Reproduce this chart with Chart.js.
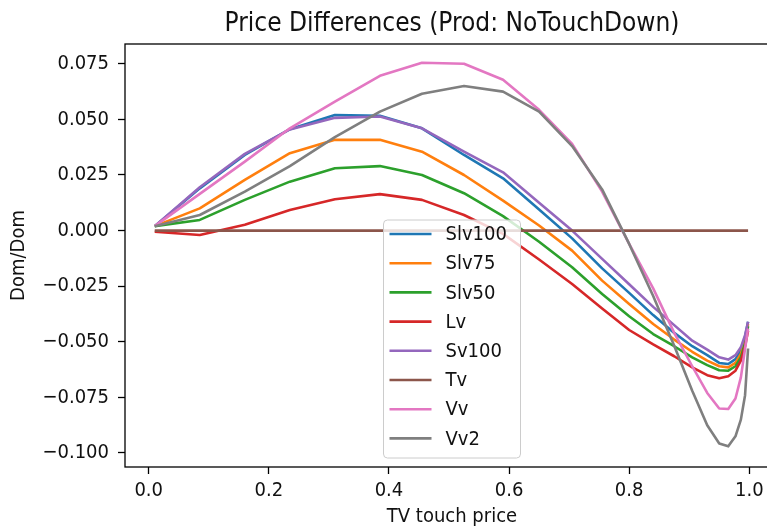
<!DOCTYPE html>
<html><head><meta charset="utf-8">
<script src="https://cdn.jsdelivr.net/npm/chart.js@4/dist/chart.umd.min.js"></script>
<style>
html,body{margin:0;padding:0;overflow:hidden;background:#fff;width:767px;height:529px}
#wrap{position:relative;width:779px;height:529px}
</style></head><body>
<div id="wrap"><canvas id="c"></canvas></div>
<script>
// ---- data ----
const xValues = [0.01, 0.085, 0.16, 0.235, 0.31, 0.385, 0.455, 0.525, 0.59, 0.65, 0.705, 0.755, 0.80, 0.84, 0.875, 0.905, 0.93, 0.95, 0.965, 0.977, 0.986, 0.993, 0.998];
const seriesNames = ['Slv100', 'Slv75', 'Slv50', 'Lv', 'Sv100', 'Tv', 'Vv', 'Vv2'];
const slv100 = [0.002, 0.019, 0.034, 0.0456, 0.052, 0.0516, 0.046, 0.034, 0.0235, 0.0095, -0.0035, -0.017, -0.028, -0.038, -0.046, -0.052, -0.056, -0.0595, -0.060, -0.0578, -0.054, -0.048, -0.041];
const slv75 = [0.002, 0.010, 0.0228, 0.0348, 0.0408, 0.0408, 0.0355, 0.025, 0.0135, 0.0023, -0.009, -0.0225, -0.033, -0.042, -0.049, -0.0545, -0.0585, -0.061, -0.0615, -0.0595, -0.0555, -0.049, -0.042];
const slv50 = [0.002, 0.0048, 0.0138, 0.022, 0.028, 0.029, 0.025, 0.0168, 0.0065, -0.005, -0.0165, -0.0285, -0.0385, -0.0465, -0.052, -0.057, -0.0605, -0.0628, -0.063, -0.061, -0.057, -0.0505, -0.043];
const lv = [-0.0005, -0.002, 0.0026, 0.0093, 0.0141, 0.0164, 0.0138, 0.007, -0.0015, -0.013, -0.024, -0.035, -0.0447, -0.0512, -0.0565, -0.0615, -0.065, -0.0664, -0.0655, -0.063, -0.0585, -0.052, -0.045];
const sv100 = [0.002, 0.0195, 0.0345, 0.0455, 0.0507, 0.0513, 0.046, 0.0355, 0.0262, 0.0125, 0.000, -0.0127, -0.0241, -0.0343, -0.0425, -0.0495, -0.0535, -0.057, -0.058, -0.056, -0.0525, -0.047, -0.041];
const tv = [0, 0, 0, 0, 0, 0, 0, 0, 0, 0, 0, 0, 0, 0, 0, 0, 0, 0, 0, 0, 0, 0, 0];
const vv = [0.002, 0.0165, 0.031, 0.046, 0.058, 0.0696, 0.0755, 0.075, 0.0678, 0.0543, 0.039, 0.0175, -0.006, -0.026, -0.046, -0.061, -0.073, -0.080, -0.0802, -0.0755, -0.066, -0.053, -0.044];
const vv2 = [0.002, 0.007, 0.0175, 0.029, 0.042, 0.0535, 0.0615, 0.065, 0.0625, 0.0535, 0.038, 0.0185, -0.006, -0.0294, -0.0518, -0.072, -0.0875, -0.0957, -0.097, -0.0925, -0.085, -0.074, -0.053];
const seriesValues = [slv100, slv75, slv50, lv, sv100, tv, vv, vv2];
const seriesColors = ['#1f77b4', '#ff7f0e', '#2ca02c', '#d62728', '#9467bd', '#8c564b', '#e377c2', '#7f7f7f'];
const xTicks = [0, 0.2, 0.4, 0.6, 0.8, 1.0];
const xTickLabels = ['0.0', '0.2', '0.4', '0.6', '0.8', '1.0'];
const yTicks = [-0.1, -0.075, -0.05, -0.025, 0, 0.025, 0.05, 0.075];
const yTickLabels = ['\u22120.100', '\u22120.075', '\u22120.050', '\u22120.025', '0.000', '0.025', '0.050', '0.075'];
const titleText = 'Price Differences (Prod: NoTouchDown)';
const xLabel = 'TV touch price';
const yLabel = 'Dom/Dom';

const FONT = "'DejaVu Sans Condensed', 'DejaVu Sans', sans-serif";
const TXT = '#111';

const datasets = seriesNames.map((name, i) => ({
  label: name,
  data: xValues.map((x, k) => ({x: x, y: seriesValues[i][k]})),
  borderColor: seriesColors[i],
  backgroundColor: seriesColors[i],
  borderWidth: 2.6,
  pointRadius: 0,
  tension: 0,
  fill: false,
  borderJoinStyle: 'round',
  order: seriesNames.length - 1 - i
}));

const framePlugin = {
  id: 'frame',
  afterDatasetsDraw(chart) {
    const a = chart.chartArea, ctx = chart.ctx;
    ctx.save();
    ctx.strokeStyle = '#000';
    ctx.lineWidth = 1.3;
    ctx.strokeRect(a.left, a.top, a.right - a.left, a.bottom - a.top);
    ctx.restore();
  }
};

const legendPlugin = {
  id: 'boxLegend',
  afterDatasetsDraw(chart) {
    const a = chart.chartArea, ctx = chart.ctx;
    const w = 137, h = 238, r = 4;
    const x0 = (a.left + a.right) / 2 - w / 2;
    const y0 = a.bottom - 9 - h;
    ctx.save();
    ctx.beginPath();
    ctx.moveTo(x0 + r, y0);
    ctx.lineTo(x0 + w - r, y0); ctx.arcTo(x0 + w, y0, x0 + w, y0 + r, r);
    ctx.lineTo(x0 + w, y0 + h - r); ctx.arcTo(x0 + w, y0 + h, x0 + w - r, y0 + h, r);
    ctx.lineTo(x0 + r, y0 + h); ctx.arcTo(x0, y0 + h, x0, y0 + h - r, r);
    ctx.lineTo(x0, y0 + r); ctx.arcTo(x0, y0, x0 + r, y0, r);
    ctx.closePath();
    ctx.fillStyle = 'rgba(255,255,255,0.8)';
    ctx.fill();
    ctx.strokeStyle = '#cccccc';
    ctx.lineWidth = 1;
    ctx.stroke();
    ctx.font = '20px ' + FONT;
    ctx.textBaseline = 'middle';
    ctx.textAlign = 'left';
    chart.data.datasets.forEach((ds, i) => {
      const y = y0 + 14 + i * 29.2;
      ctx.beginPath();
      ctx.moveTo(x0 + 6, y);
      ctx.lineTo(x0 + 48, y);
      ctx.strokeStyle = ds.borderColor;
      ctx.lineWidth = 2.6;
      ctx.stroke();
      ctx.fillStyle = TXT;
      ctx.fillText(ds.label, x0 + 62, y + 1);
    });
    ctx.restore();
  }
};

new Chart(document.getElementById('c'), {
  type: 'line',
  data: { datasets: datasets },
  options: {
    responsive: true,
    maintainAspectRatio: false,
    animation: false,
    layout: { padding: 0 },
    plugins: {
      legend: { display: false },
      tooltip: { enabled: false },
      title: {
        display: true, text: titleText, fullSize: false, color: TXT,
        font: { family: FONT, size: 26, weight: 'normal' },
        padding: { top: 8.5, bottom: 4.3 }
      }
    },
    scales: {
      x: {
        type: 'linear', position: 'bottom', min: -0.0395, max: 1.0495,
        afterFit(s) { s.height = 62; },
        afterBuildTicks(s) { s.ticks = xTicks.map(v => ({ value: v })); },
        ticks: { callback: (v, i) => xTickLabels[i], color: TXT, font: { family: FONT, size: 20 }, padding: 5, maxRotation: 0 },
        grid: { drawOnChartArea: false, drawTicks: true, tickLength: 7, tickColor: '#000', tickWidth: 1.3 },
        border: { display: false },
        title: { display: true, text: xLabel, color: TXT, font: { family: FONT, size: 20 }, padding: { top: 4, bottom: 0 } }
      },
      y: {
        type: 'linear', min: -0.1063, max: 0.0839,
        afterFit(s) { s.width = 125; },
        afterBuildTicks(s) { s.ticks = yTicks.map(v => ({ value: v })); },
        ticks: { callback: (v, i) => yTickLabels[i], color: TXT, font: { family: FONT, size: 20 }, padding: 9 },
        grid: { drawOnChartArea: false, drawTicks: true, tickLength: 7, tickColor: '#000', tickWidth: 1.3 },
        border: { display: false },
        title: { display: true, text: yLabel, color: TXT, font: { family: FONT, size: 20 }, padding: { top: 7, bottom: 0 } }
      }
    }
  },
  plugins: [framePlugin, legendPlugin]
});
</script>
</body></html>
